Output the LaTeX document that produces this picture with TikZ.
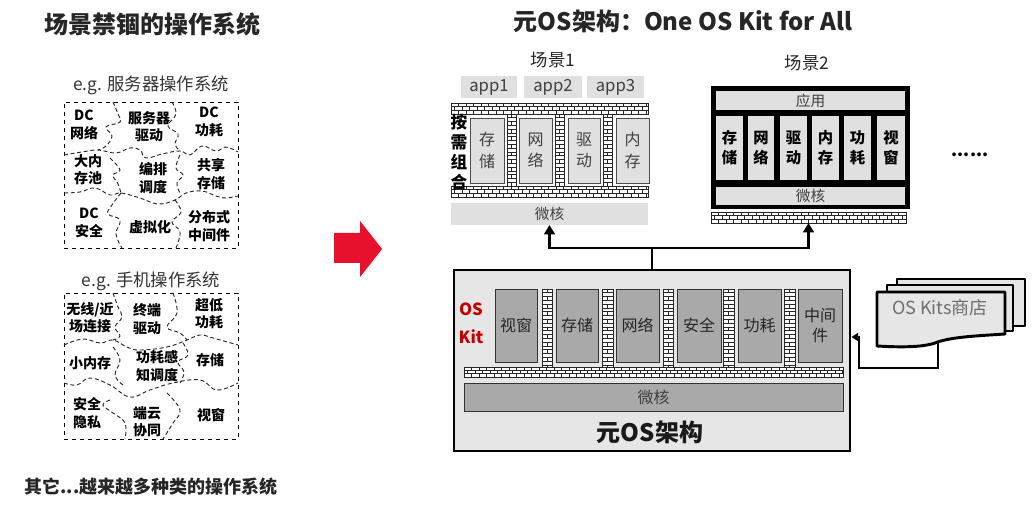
\documentclass[tikz,border=0pt]{standalone}
\usepackage{fontspec}
\setmainfont{Noto Sans CJK SC}
\usetikzlibrary{arrows.meta}
\definecolor{boxlight}{HTML}{E0E0E0}
\definecolor{mainfill}{HTML}{E6E6E6}
\definecolor{kitgray}{HTML}{A9A9A9}
\definecolor{textgray}{HTML}{404040}
\definecolor{kitred}{HTML}{C00000}
\definecolor{arrowred}{HTML}{E8112D}
\definecolor{storegray}{HTML}{6E6E6E}

% box node from corner coordinates (pixel units): style, name, x1, y1, x2, y2, text
\newcommand\boxnode[7]{%
  \node[#1, minimum width={(#5-#3)*0.75pt}, minimum height={(#6-#4)*0.75pt}] (#2) at ({(#3+#5)/2},{(#4+#6)/2}) {#7};%
}
\newcommand\hbrickband[4]{%
  \fill[white] (#1,#2) rectangle (#3,#4);
  \begin{scope}
    \clip (#1,#2) rectangle (#3,#4);
    \foreach \r in {0,1,2}{%
      \pgfmathsetmacro\bya{#2+\r*(#4-#2)/3}%
      \pgfmathsetmacro\byb{#2+(\r+1)*(#4-#2)/3}%
      \pgfmathsetmacro\boff{mod(\r,2)*3.75}%
      \foreach \bx in {0,7.5,...,405}{%
        \draw[brickline] (#1+\bx+\boff,\bya) -- (#1+\bx+\boff,\byb);
      }%
      \draw[brickline] (#1,\byb) -- (#3,\byb);
    }%
  \end{scope}
  \draw[brickline] (#1,#2) rectangle (#3,#4);
}
\newcommand\vbrickband[4]{%
  \fill[white] (#1,#2) rectangle (#3,#4);
  \begin{scope}
    \clip (#1,#2) rectangle (#3,#4);
    \pgfmathsetmacro\bxm{(#1+#3)/2}%
    \foreach \by in {0,3.8,...,120}{%
      \draw[brickline] (#1,#2+\by) -- (#3,#2+\by);
    }%
    \foreach \by in {0,7.6,...,120}{%
      \draw[brickline] (\bxm,#2+\by) -- (\bxm,#2+\by+3.8);
    }%
  \end{scope}
  \draw[brickline] (#1,#2) rectangle (#3,#4);
}

\begin{document}
\begin{tikzpicture}[x=0.75pt,y=-0.75pt,
  lbox/.style={fill=boxlight, draw=none, inner sep=0pt, outer sep=0pt, align=center},
  s1col/.style={fill=boxlight, draw=black!70, line width=0.6pt, inner sep=0pt, align=center, font=\fontsize{12}{16}\selectfont, text=textgray},
  s2col/.style={fill=boxlight, draw=none, inner sep=0pt, align=center, font=\bfseries\fontsize{11.5}{15}\selectfont},
  kitcol/.style={fill=kitgray, draw=black!80, line width=0.6pt, inner sep=0pt, align=center, font=\fontsize{12}{15}\selectfont, text=black!85},
  piece/.style={font=\bfseries\fontsize{10.5}{13}\selectfont, align=center, inner sep=0pt},
  puzzle/.style={line width=0.7pt, dash pattern=on 3pt off 2pt, black!85},
  conn/.style={line width=2.2pt, -{Triangle[width=8pt,length=7pt]}},
  brickline/.style={line width=0.45pt, black!85},
  docst/.style={fill=mainfill, draw=black, line width=2.2pt, line join=round},
  dashbox/.style={draw, dashed, line width=0.7pt, inner sep=0pt},
]
\useasboundingbox[fill=white] (0,0) rectangle (1036,505);

% ---------- left half ----------
\node[font=\bfseries\fontsize{18}{20}\selectfont, text=black!85] (lefttitle) at (153,24) {场景禁锢的操作系统};
\node[font=\fontsize{13}{15}\selectfont, text=black!80] (eg1) at (151,85) {e.g. 服务器操作系统};
\boxnode{dashbox}{serverbox}{64}{102}{238}{248}{}

\draw[puzzle] plot[smooth, tension=0.7] coordinates {(113,102) (118,114) (120,122) (106,127) (112,136) (106,146) (98,150)};
\draw[puzzle] plot[smooth, tension=0.7] coordinates {(64,155) (82,152) (98,150) (116,153) (130,148) (140,150) (146,158) (162,154) (180,151) (190,155) (202,146) (216,151) (226,147) (238,152)};
\draw[puzzle] plot[smooth, tension=0.7] coordinates {(172,102) (176,114) (168,126) (178,134) (175,144) (180,151)};
\draw[puzzle] plot[smooth, tension=0.7] coordinates {(110,158) (120,170) (113,175) (118,184) (121,193)};
\draw[puzzle] plot[smooth, tension=0.7] coordinates {(180,155) (176,168) (183,175) (177,183) (180,193)};
\draw[puzzle] plot[smooth, tension=0.7] coordinates {(64,193) (80,192) (95,188) (110,195) (121,193) (140,198) (158,204) (175,200) (186,193) (202,191) (216,196) (226,198) (238,196)};
\draw[puzzle] plot[smooth, tension=0.7] coordinates {(121,193) (112,205) (108,214) (120,220) (116,234) (122,248)};
\draw[puzzle] plot[smooth, tension=0.7] coordinates {(175,200) (181,212) (172,222) (180,232) (176,248)};

\node[piece] (p11) at (84,125) {DC\\网络};
\node[piece] (p12) at (149,127) {服务器\\驱动};
\node[piece] (p13) at (209,122) {DC\\功耗};
\node[piece] (p14) at (88,170) {大内\\存池};
\node[piece] (p15) at (153,178) {编排\\调度};
\node[piece] (p16) at (211,174) {共享\\存储};
\node[piece] (p17) at (89,223) {DC\\安全};
\node[piece] (p18) at (150,227) {虚拟化};
\node[piece] (p19) at (209,226) {分布式\\中间件};

\node[font=\fontsize{13}{15}\selectfont, text=black!80] (eg2) at (151,281) {e.g. 手机操作系统};
\boxnode{dashbox}{phonebox}{64}{293}{238}{439}{}

\draw[puzzle] plot[smooth, tension=0.7] coordinates {(113,293) (118,307) (122,317) (115,327) (120,336) (113,340)};
\draw[puzzle] plot[smooth, tension=0.7] coordinates {(64,345) (83,339) (100,343) (113,340) (127,347) (140,350) (167,347) (187,340) (200,335) (213,338) (238,345)};
\draw[puzzle] plot[smooth, tension=0.7] coordinates {(173,293) (177,313) (167,327) (180,333) (187,340)};
\draw[puzzle] plot[smooth, tension=0.7] coordinates {(113,347) (120,360) (115,375) (123,385)};
\draw[puzzle] plot[smooth, tension=0.7] coordinates {(183,343) (188,355) (178,362) (184,372) (180,383)};
\draw[puzzle] plot[smooth, tension=0.7] coordinates {(64,383) (77,385) (90,378) (110,385) (130,397) (150,390) (173,383) (200,380) (217,390) (238,383)};
\draw[puzzle] plot[smooth, tension=0.7] coordinates {(110,400) (103,405) (113,413) (125,423) (125,439)};
\draw[puzzle] plot[smooth, tension=0.7] coordinates {(167,393) (180,410) (173,423) (163,439)};

\node[piece] (p21) at (90,318) {无线/近\\场连接};
\node[piece] (p22) at (147,319) {终端\\驱动};
\node[piece] (p23) at (209,314) {超低\\功耗};
\node[piece] (p24) at (90,363) {小内存};
\node[piece] (p25) at (157,366) {功耗感\\知调度};
\node[piece] (p26) at (210,360) {存储};
\node[piece] (p27) at (87,413) {安全\\隐私};
\node[piece] (p28) at (147,422) {端云\\协同};
\node[piece] (p29) at (211,415) {视窗};

\node[font=\bfseries\fontsize{13.5}{15}\selectfont, text=black!85] (bottomtext) at (151,487) {其它...越来越多种类的操作系统};

% ---------- red arrow ----------
\fill[arrowred] (334,233) -- (360,233) -- (360,221) -- (382,249) -- (360,277) -- (360,263) -- (334,263) -- cycle;

% ---------- right title ----------
\node[font=\bfseries\fontsize{18}{20}\selectfont, text=black!85] (righttitle) at (683,21) {元OS架构：One OS Kit for All};

% ---------- scene 1 ----------
\node[font=\fontsize{13}{15}\selectfont, text=black!85] (s1title) at (553,60) {场景1};
\boxnode{lbox, font=\fontsize{12.5}{14}\selectfont, text=textgray}{app1}{461}{76}{517}{98}{app1}
\boxnode{lbox, font=\fontsize{12.5}{14}\selectfont, text=textgray}{app2}{524}{76}{582}{98}{app2}
\boxnode{lbox, font=\fontsize{12.5}{14}\selectfont, text=textgray}{app3}{587}{76}{644}{98}{app3}
\hbrickband{451}{103}{648}{114}
\hbrickband{451}{186}{648}{197}
\vbrickband{507}{114}{516}{186}
\vbrickband{555}{114}{564}{186}
\vbrickband{603}{114}{612}{186}
\boxnode{s1col}{s1a}{470}{118}{504}{183}{存\\储}
\boxnode{s1col}{s1b}{519}{118}{552}{183}{网\\络}
\boxnode{s1col}{s1c}{568}{118}{600}{183}{驱\\动}
\boxnode{s1col}{s1d}{616}{118}{649}{183}{内\\存}
\node[font=\bfseries\fontsize{12.5}{15}\selectfont, align=center, inner sep=0pt] (anxu) at (459,152) {按\\需\\组\\合};
\boxnode{lbox, font=\fontsize{11}{13}\selectfont, text=textgray}{s1k}{451}{203}{648}{225}{微核}

% ---------- scene 2 ----------
\node[font=\fontsize{13}{15}\selectfont, text=black!85] (s2title) at (807,63) {场景2};
\boxnode{fill=black, inner sep=0pt}{s2frame}{711}{86}{910}{209}{}
\boxnode{lbox, font=\fontsize{11}{13}\selectfont, text=textgray}{s2app}{716}{91}{905}{110}{应用}
\boxnode{s2col}{s2a}{716}{116}{743}{180}{存\\储}
\boxnode{s2col}{s2b}{748}{116}{774}{180}{网\\络}
\boxnode{s2col}{s2c}{780}{116}{807}{180}{驱\\动}
\boxnode{s2col}{s2d}{812}{116}{839}{180}{内\\存}
\boxnode{s2col}{s2e}{844}{116}{871}{180}{功\\耗}
\boxnode{s2col}{s2f}{877}{116}{905}{180}{视\\窗}
\boxnode{lbox, font=\fontsize{11}{13}\selectfont, text=textgray}{s2k}{716}{187}{905}{205}{微核}
\hbrickband{711}{212}{906}{223}
\boxnode{inner sep=0pt, outer sep=0pt}{s2bricks}{711}{212}{906}{223}{}
\node[font=\bfseries\fontsize{13}{15}\selectfont] (dots) at (970,155) {......};

% ---------- main box ----------
\boxnode{fill=mainfill, draw=black, line width=2.2pt, inner sep=0pt}{mainbox}{454}{270}{850}{451}{}
\node[text=kitred, font=\bfseries\fontsize{12.5}{14}\selectfont] (kitos) at (471,309) {OS};
\node[text=kitred, font=\bfseries\fontsize{12.5}{14}\selectfont] (kitkit) at (471,337) {Kit};
\hbrickband{464}{367}{843}{377}
\vbrickband{542}{289}{552}{367}
\vbrickband{602}{289}{613}{367}
\vbrickband{663}{289}{673}{367}
\vbrickband{723}{289}{734}{367}
\vbrickband{784}{289}{795}{367}
\boxnode{kitcol}{k1}{495}{289}{537}{362}{视窗}
\boxnode{kitcol}{k2}{556}{289}{598}{362}{存储}
\boxnode{kitcol}{k3}{616}{289}{659}{362}{网络}
\boxnode{kitcol}{k4}{677}{289}{721}{362}{安全}
\boxnode{kitcol}{k5}{738}{289}{781}{362}{功耗}
\boxnode{kitcol}{k6}{798}{289}{842}{362}{中间\\件}
\boxnode{kitcol, text=textgray}{mk}{464}{383}{843}{411}{微核}
\node[font=\bfseries\fontsize{18}{20}\selectfont, text=black!90] (yuanos) at (650,432) {元OS架构};

% ---------- connectors ----------
\coordinate (junc) at (652,248);
\draw[line width=2.2pt] (mainbox.north) -- (junc);
\draw[conn] (junc) -| (s1k.south);
\draw[conn] (junc) -| (s2bricks.south);

% ---------- OS Kits store ----------
\draw[docst] (897,279) rectangle (1025,326);
\draw[docst] (887,285) rectangle (1013,331);
\draw[docst] (877,292) -- (1005,292) -- (1005,334) .. controls (975,336) and (950,337) .. (935,343) .. controls (920,348) and (895,347) .. (877,346) -- cycle;
\node[text=storegray, font=\fontsize{13.5}{15}\selectfont] (storelabel) at (940,308) {OS Kits商店};
\coordinate (storebot) at (938,342);
\coordinate (turn1) at (859,368);
\coordinate (turn2) at (859,337);
\draw[line width=2.2pt, -{Triangle[width=6pt,length=5pt]}] (storebot) |- (turn1) -- (turn2) -- (mainbox.east |- turn2);
\end{tikzpicture}
\end{document}
